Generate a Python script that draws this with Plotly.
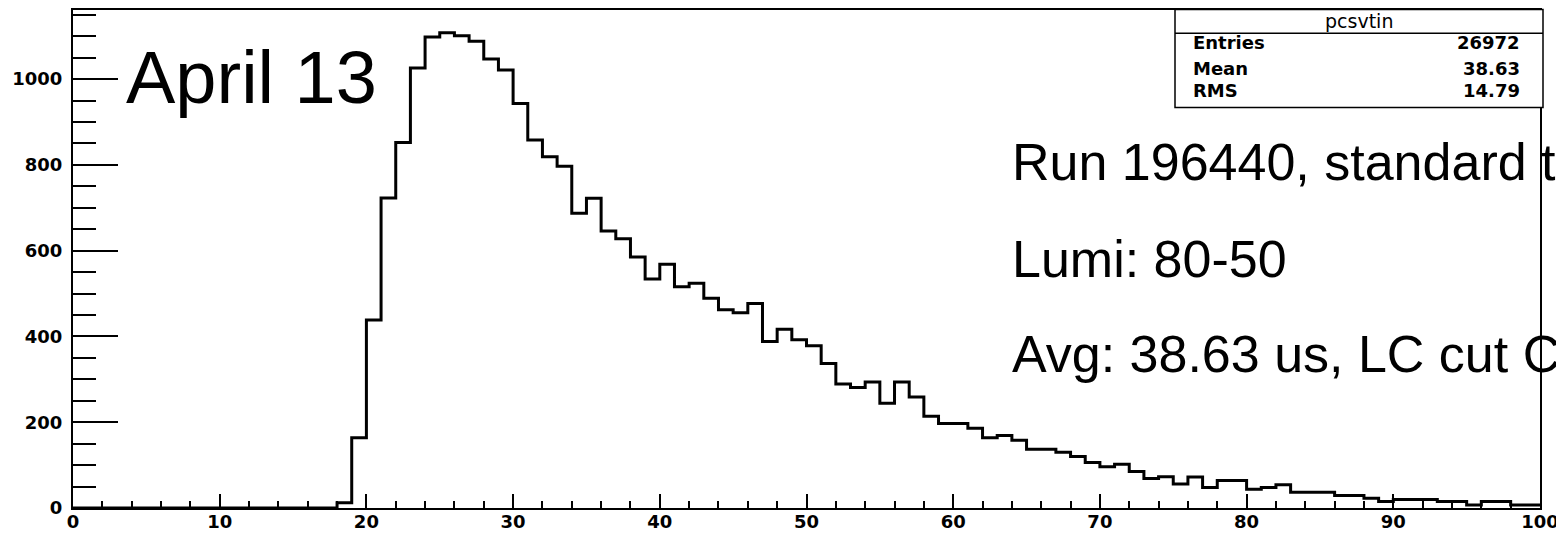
import plotly.graph_objects as go

# ---------------- data ----------------
bin_edges = [0, 1, 2, 3, 4, 5, 6, 7, 8, 9, 10, 11, 12, 13, 14, 15, 16, 17, 18, 19,
             20, 21, 22, 23, 24, 25, 26, 27, 28, 29, 30, 31, 32, 33, 34, 35, 36, 37, 38, 39,
             40, 41, 42, 43, 44, 45, 46, 47, 48, 49, 50, 51, 52, 53, 54, 55, 56, 57, 58, 59,
             60, 61, 62, 63, 64, 65, 66, 67, 68, 69, 70, 71, 72, 73, 74, 75, 76, 77, 78, 79,
             80, 81, 82, 83, 84, 85, 86, 87, 88, 89, 90, 91, 92, 93, 94, 95, 96, 97, 98, 99, 100]
counts = [0, 0, 0, 0, 0, 0, 0, 0, 0, 0,
          0, 0, 0, 0, 0, 0, 0, 0, 12, 164,
          438, 723, 852, 1026, 1098, 1108, 1101, 1088, 1047, 1021,
          943, 858, 819, 797, 687, 722, 646, 628, 585, 534,
          568, 516, 524, 489, 462, 455, 477, 388, 417, 392,
          378, 337, 289, 281, 294, 244, 294, 259, 214, 197,
          197, 186, 164, 169, 158, 137, 137, 130, 120, 106,
          96, 102, 85, 69, 73, 56, 72, 48, 64, 64,
          44, 48, 54, 37, 37, 37, 29, 29, 23, 15,
          20, 20, 20, 15, 15, 7, 15, 15, 7, 7]

x_ticks = [0, 10, 20, 30, 40, 50, 60, 70, 80, 90, 100]
y_ticks = [0, 200, 400, 600, 800, 1000]

stats_title = "pcsvtin"
stats_labels = ["Entries", "Mean", "RMS"]
stats_values = ["26972", "38.63", "14.79"]

big_label = "April 13"
info_lines = ["Run 196440, standard t", "Lumi: 80-50", "Avg: 38.63 us, LC cut C"]

# ---------------- layout geometry ----------------
# the page body has an 8px default margin, so the figure is drawn 8px in
OFF = 8
PAGE_W, PAGE_H = 1564, 540
W, H = PAGE_W - OFF, PAGE_H - OFF
# plot area in page pixels
P_L, P_R, P_T, P_B = 73, 1540, 10, 508
ML, MR, MT, MB = P_L - OFF, W - (P_R - OFF), P_T - OFF, H - (P_B - OFF)
PW, PH = P_R - P_L, P_B - P_T


def px(x):
    return (x - P_L) / PW


def py(y):
    return 1 - (y - P_T) / PH


fig = go.Figure()
fig.add_trace(go.Scatter(
    x=bin_edges, y=counts + [counts[-1]],
    mode="lines", line=dict(color="black", width=3, shape="hv"),
    hoverinfo="skip", showlegend=False,
))

tickfont = dict(family="DejaVu Sans", size=18, color="black", weight="bold")

fig.update_xaxes(
    range=[0, 100], tickmode="array", tickvals=x_ticks,
    ticktext=[str(v) for v in x_ticks],
    ticks="inside", ticklen=14, tickwidth=2, tickcolor="black",
    minor=dict(tick0=0, dtick=2, ticks="inside", ticklen=7, tickwidth=2,
               tickcolor="black", showgrid=False),
    showline=True, linecolor="black", linewidth=2, mirror=True,
    showgrid=False, zeroline=False, tickfont=tickfont,
    automargin=False, ticklabelstandoff=-4,
)
fig.update_yaxes(
    range=[0, 1161], tickmode="array", tickvals=y_ticks,
    ticktext=[str(v) for v in y_ticks],
    ticks="inside", ticklen=45, tickwidth=2, tickcolor="black",
    minor=dict(tick0=0, dtick=50, ticks="inside", ticklen=23, tickwidth=2,
               tickcolor="black", showgrid=False),
    showline=True, linecolor="black", linewidth=2, mirror=True,
    showgrid=False, zeroline=False, tickfont=tickfont,
    ticklabelstandoff=5, automargin=False,
)

# stats box (page pixels)
box_l, box_r, box_t, box_head, box_b = 1175, 1543, 9.5, 33.3, 107.5
fig.add_shape(type="rect", xref="paper", yref="paper",
              x0=px(box_l), x1=px(box_r), y0=py(box_b), y1=py(box_t),
              line=dict(color="black", width=1.5), fillcolor="white")
fig.add_shape(type="line", xref="paper", yref="paper",
              x0=px(box_l), x1=px(box_r), y0=py(box_head), y1=py(box_head),
              line=dict(color="black", width=1.5))

statfont = dict(family="DejaVu Sans", size=18, color="black", weight="bold")
annotations = [
    dict(text=stats_title, x=px((box_l + box_r) / 2), y=py(20.5),
         xanchor="center", yanchor="middle",
         font=dict(family="DejaVu Sans", size=19, color="black")),
]
row_y = [42.7, 68.3, 90.3]
for lab, val, ry in zip(stats_labels, stats_values, row_y):
    annotations.append(dict(text=lab, x=px(1191), y=py(ry), xanchor="left",
                            yanchor="middle", font=statfont))
    annotations.append(dict(text=val, x=px(1522), y=py(ry), xanchor="right",
                            yanchor="middle", font=statfont))

annotations.append(dict(text=big_label, x=px(124), y=py(77.4), xanchor="left",
                        yanchor="middle",
                        font=dict(family="Liberation Sans", size=74, color="black")))
for line, ry in zip(info_lines, [161.8, 258.5, 353.5]):
    annotations.append(dict(text=line, x=px(1010), y=py(ry), xanchor="left",
                            yanchor="middle",
                            font=dict(family="Liberation Sans", size=52, color="black")))

for a in annotations:
    a.update(xref="paper", yref="paper", showarrow=False)

fig.update_layout(
    width=W, height=H,
    margin=dict(l=ML, r=MR, t=MT, b=MB, autoexpand=False),
    paper_bgcolor="white", plot_bgcolor="white",
    annotations=annotations, showlegend=False,
)

fig.write_html("out.html")
